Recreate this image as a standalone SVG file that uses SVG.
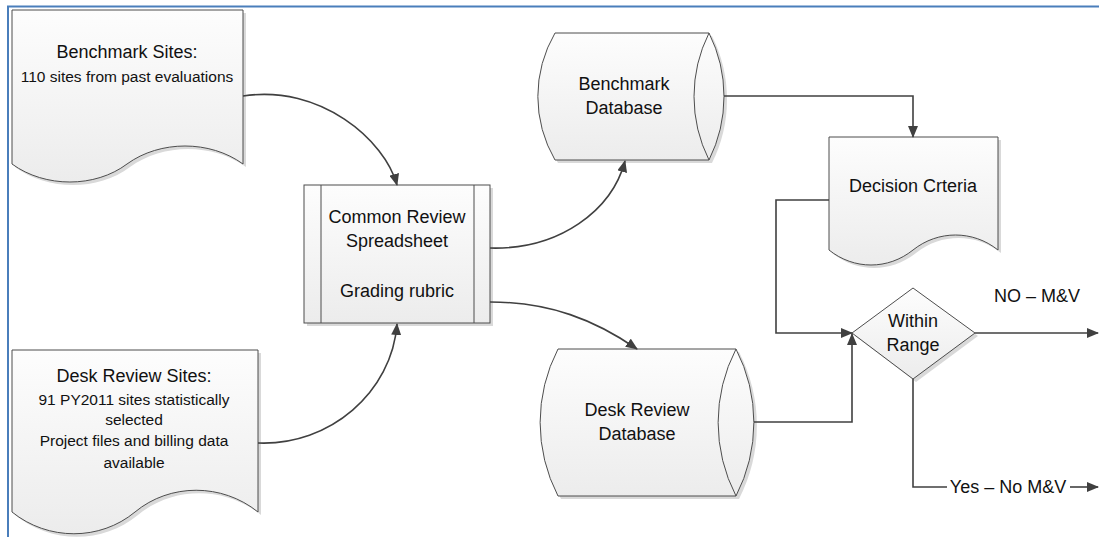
<svg xmlns="http://www.w3.org/2000/svg" width="1099" height="537" viewBox="0 0 1099 537">
<style>
text{font-family:"Liberation Sans",Arial,sans-serif;fill:#111;text-anchor:middle}
.lg{font-size:18px}
.sm{font-size:15.5px}
.shape{fill:url(#g);stroke:#4d4d4d;stroke-width:1}
.shadow{fill:#d9d9d9;stroke:none}
.con{fill:none;stroke:#404040;stroke-width:1.6}
</style>
<defs>
<linearGradient id="g" x1="0" y1="0" x2="0" y2="1">
<stop offset="0" stop-color="#fdfdfd"/>
<stop offset="1" stop-color="#ececec"/>
</linearGradient>
<marker id="arr" viewBox="0 0 12 10" refX="11" refY="5" markerWidth="12" markerHeight="10" markerUnits="userSpaceOnUse" orient="auto">
<path d="M0,0 L12,5 L0,10 z" fill="#404040"/>
</marker>
</defs>
<rect width="1099" height="537" fill="#fff"/>
<g id="frame" fill="none" stroke="#4a7ebb" stroke-width="2">
<path d="M8,537 V6.5 H1099"/>
</g>

<g id="benchmark-sites">
<path class="shadow" d="M15,13 H246 V167 C213,143 163,143 130,167 C98,191 48,191 15,167 Z"/>
<path class="shape" d="M12,10 H243 V164 C210,140 160,140 127,164 C95,188 45,188 12,164 Z"/>
<text class="lg" x="127" y="58">Benchmark Sites:</text>
<text class="sm" x="127" y="82">110 sites from past evaluations</text>
</g>

<g id="desk-review-sites">
<path class="shadow" d="M15,353 H261 V515 C225,486 173,486 138,515 C103,544 51,544 15,515 Z"/>
<path class="shape" d="M12,350 H258 V512 C222,483 170,483 135,512 C100,541 48,541 12,512 Z"/>
<text class="lg" x="134" y="382">Desk Review Sites:</text>
<text class="sm" x="134" y="405">91 PY2011 sites statistically</text>
<text class="sm" x="134" y="425">selected</text>
<text class="sm" x="134" y="446">Project files and billing data</text>
<text class="sm" x="134" y="468">available</text>
</g>

<g id="common-review">
<rect class="shadow" x="307" y="188" width="186" height="138"/>
<rect class="shape" x="304" y="185" width="186" height="138"/>
<line x1="321" y1="185" x2="321" y2="323" stroke="#4d4d4d"/>
<line x1="474" y1="185" x2="474" y2="323" stroke="#4d4d4d"/>
<text class="lg" x="397" y="223">Common Review</text>
<text class="lg" x="397" y="247">Spreadsheet</text>
<text class="lg" x="397" y="297">Grading rubric</text>
</g>

<g id="benchmark-db">
<path class="shadow" d="M558,36 H712 A142,142 0 0 1 712,163 H558 A126,126 0 0 1 558,36 Z"/>
<path class="shape" d="M555,33 H709 A142,142 0 0 1 709,160 H555 A126,126 0 0 1 555,33 Z"/>
<path d="M709,33 A142,142 0 0 0 709,160" fill="none" stroke="#4d4d4d"/>
<text class="lg" x="624" y="90">Benchmark</text>
<text class="lg" x="624" y="114">Database</text>
</g>

<g id="desk-review-db">
<path class="shadow" d="M561,352 H739 A160,160 0 0 1 739,499 H561 A160,160 0 0 1 561,352 Z"/>
<path class="shape" d="M558,349 H736 A160,160 0 0 1 736,496 H558 A160,160 0 0 1 558,349 Z"/>
<path d="M736,349 A160,160 0 0 0 736,496" fill="none" stroke="#4d4d4d"/>
<text class="lg" x="637" y="416">Desk Review</text>
<text class="lg" x="637" y="440">Database</text>
</g>

<g id="decision-criteria">
<path class="shadow" d="M832,140 H1001 V253 C976,233 941,233 916,253 C891,273 857,273 832,253 Z"/>
<path class="shape" d="M829,137 H998 V250 C973,230 938,230 913,250 C888,270 854,270 829,250 Z"/>
<text class="lg" x="913" y="192">Decision Crteria</text>
</g>

<g id="within-range">
<path class="shadow" d="M916,291 L978,336 L916,382 L855,336 Z"/>
<path class="shape" d="M913,288 L975,333 L913,379 L852,333 Z"/>
<text class="lg" x="913" y="327">Within</text>
<text class="lg" x="913" y="351">Range</text>
</g>

<g id="connectors">
<path class="con" d="M243,96 C320,84 385,140 397,185" marker-end="url(#arr)"/>
<path class="con" d="M258,443 C330,446 392,392 397,324" marker-end="url(#arr)"/>
<path class="con" d="M490,248 C560,250 612,210 625,161" marker-end="url(#arr)"/>
<path class="con" d="M490,302 C550,302 595,320 637,349" marker-end="url(#arr)"/>
<path class="con" d="M724,96 H913 V137" marker-end="url(#arr)"/>
<path class="con" d="M829,200 H776 V333 H852" marker-end="url(#arr)"/>
<path class="con" d="M754,422 H852 V334" marker-end="url(#arr)"/>
<path class="con" d="M975,333 H1098" marker-end="url(#arr)"/>
<path class="con" d="M913,379 V487 H947"/>
<path class="con" d="M1070,487 H1098" marker-end="url(#arr)"/>
<text class="lg" x="1037" y="302">NO – M&amp;V</text>
<text class="lg" x="1008" y="493">Yes – No M&amp;V</text>
</g>
</svg>
